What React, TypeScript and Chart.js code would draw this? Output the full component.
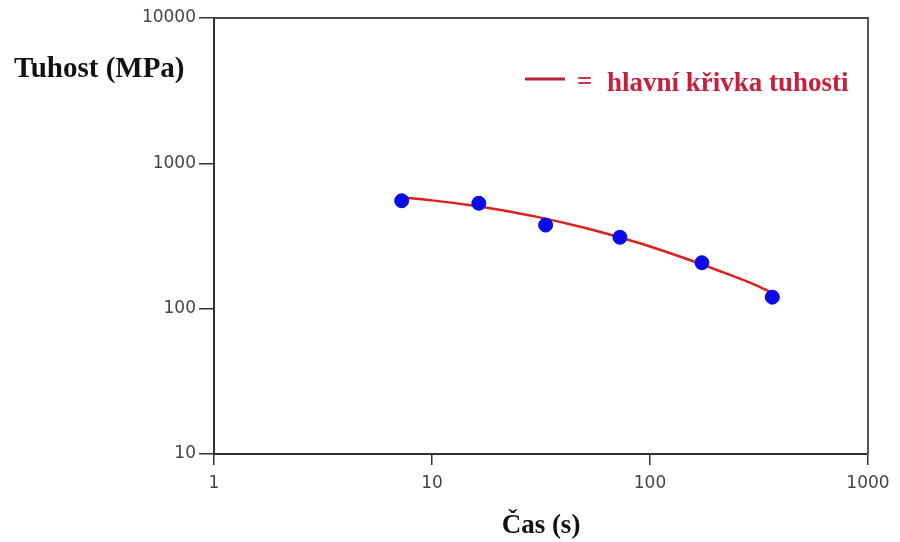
import React, { useEffect, useRef } from "react";
import { Chart, registerables } from "chart.js";

Chart.register(...registerables);

// Measured points (čas s, tuhost MPa)
const pointTimes = [7.26, 16.4, 33.2, 72.8, 173, 364];
const pointStiffness = [553, 531, 376, 310, 207, 120];

// Master curve
const curveTimes = [7.5, 10, 15, 20, 30, 50, 75, 100, 150, 200, 300, 365];
const curveStiffness = [580, 556, 515, 482, 430, 360, 305, 268, 218, 186, 147, 128];

const xTicks = [1, 10, 100, 1000];
const yTicks = [10, 100, 1000, 10000];

const yTitle = "Tuhost (MPa)";
const xTitle = "Čas (s)";
const legendText = "hlavní křivka tuhosti";

const framePlugin = {
  id: "frameAndLabels",
  afterDraw(chart: any) {
    const { ctx, chartArea } = chart;
    ctx.save();
    // frame (top & right sides)
    ctx.strokeStyle = "#444";
    ctx.lineWidth = 1.8;
    ctx.beginPath();
    ctx.moveTo(chartArea.left, chartArea.top);
    ctx.lineTo(chartArea.right, chartArea.top);
    ctx.lineTo(chartArea.right, chartArea.bottom);
    ctx.stroke();

    // y-axis title, horizontal at top-left
    ctx.fillStyle = "#111";
    ctx.font = "bold 29px 'Liberation Serif', 'Times New Roman', serif";
    ctx.textAlign = "left";
    ctx.textBaseline = "alphabetic";
    ctx.fillText(yTitle, 14, 77);

    // legend
    const lx = chartArea.left + 311;
    const ly = chartArea.top + 61;
    ctx.strokeStyle = "#b8243a";
    ctx.lineWidth = 3;
    ctx.beginPath();
    ctx.moveTo(lx, ly);
    ctx.lineTo(lx + 40, ly);
    ctx.stroke();
    ctx.font = "bold 27px 'Liberation Serif', 'Times New Roman', serif";
    ctx.fillStyle = "#c23a50";
    ctx.fillText("=", lx + 52, ly + 11);
    ctx.fillStyle = "#c8203c";
    ctx.fillText(legendText, lx + 82, ly + 12);
    ctx.restore();
  },
};

export default function App() {
  const canvasRef = useRef<HTMLCanvasElement | null>(null);

  useEffect(() => {
    if (!canvasRef.current) return;
    const tickFont = { family: "'DejaVu Sans', sans-serif", size: 17 };
    const chart = new Chart(canvasRef.current, {
      type: "scatter",
      data: {
        datasets: [
          {
            type: "scatter",
            label: "body",
            data: pointTimes.map((x, i) => ({ x, y: pointStiffness[i] })),
            backgroundColor: "#0a0ae6",
            borderColor: "#0a0ae6",
            pointRadius: 7,
            order: 0,
          } as any,
          {
            type: "line",
            label: legendText,
            data: curveTimes.map((x, i) => ({ x, y: curveStiffness[i] })),
            borderColor: "#dd1f1f",
            borderWidth: 2.5,
            pointRadius: 0,
            fill: false,
            tension: 0.4,
            cubicInterpolationMode: "monotone",
            order: 1,
          } as any,
        ],
      },
      options: {
        responsive: false,
        animation: false,
        layout: { padding: { left: 0, right: 32, top: 18, bottom: 0 } },
        plugins: {
          legend: { display: false },
          tooltip: { enabled: false },
        },
        scales: {
          x: {
            type: "logarithmic",
            min: 1,
            max: 1000,
            afterBuildTicks: (scale: any) => {
              scale.ticks = xTicks.map((v) => ({ value: v }));
            },
            afterFit: (scale: any) => {
              scale.height = 88;
            },
            ticks: {
              callback: (v: any) => String(v),
              font: tickFont,
              color: "#444",
              padding: 8,
              maxRotation: 0,
              autoSkip: false,
            },
            grid: {
              drawOnChartArea: false,
              drawTicks: true,
              tickLength: 11,
              color: "#333",
              lineWidth: 1.5,
            },
            border: { display: true, color: "#333", width: 2 },
            title: {
              display: true,
              text: xTitle,
              color: "#111",
              font: { family: "'Liberation Serif', 'Times New Roman', serif", size: 27, weight: "bold" },
              padding: { top: 0, bottom: 0 },
            },
          },
          y: {
            type: "logarithmic",
            min: 10,
            max: 10000,
            afterBuildTicks: (scale: any) => {
              scale.ticks = yTicks.map((v) => ({ value: v }));
            },
            afterFit: (scale: any) => {
              scale.width = 214;
            },
            ticks: {
              callback: (v: any) => String(v),
              font: tickFont,
              color: "#444",
              padding: 3,
              autoSkip: false,
            },
            grid: {
              drawOnChartArea: false,
              drawTicks: true,
              tickLength: 15,
              color: "#333",
              lineWidth: 1.5,
            },
            border: { display: true, color: "#333", width: 2 },
          },
        },
      } as any,
      plugins: [framePlugin],
    });
    return () => chart.destroy();
  }, []);

  return (
    <div style={{ position: "absolute", left: 0, top: 0, width: 900, height: 542, background: "#fff" }}>
      <canvas ref={canvasRef} width={900} height={542} style={{ display: "block" }} />
    </div>
  );
}
